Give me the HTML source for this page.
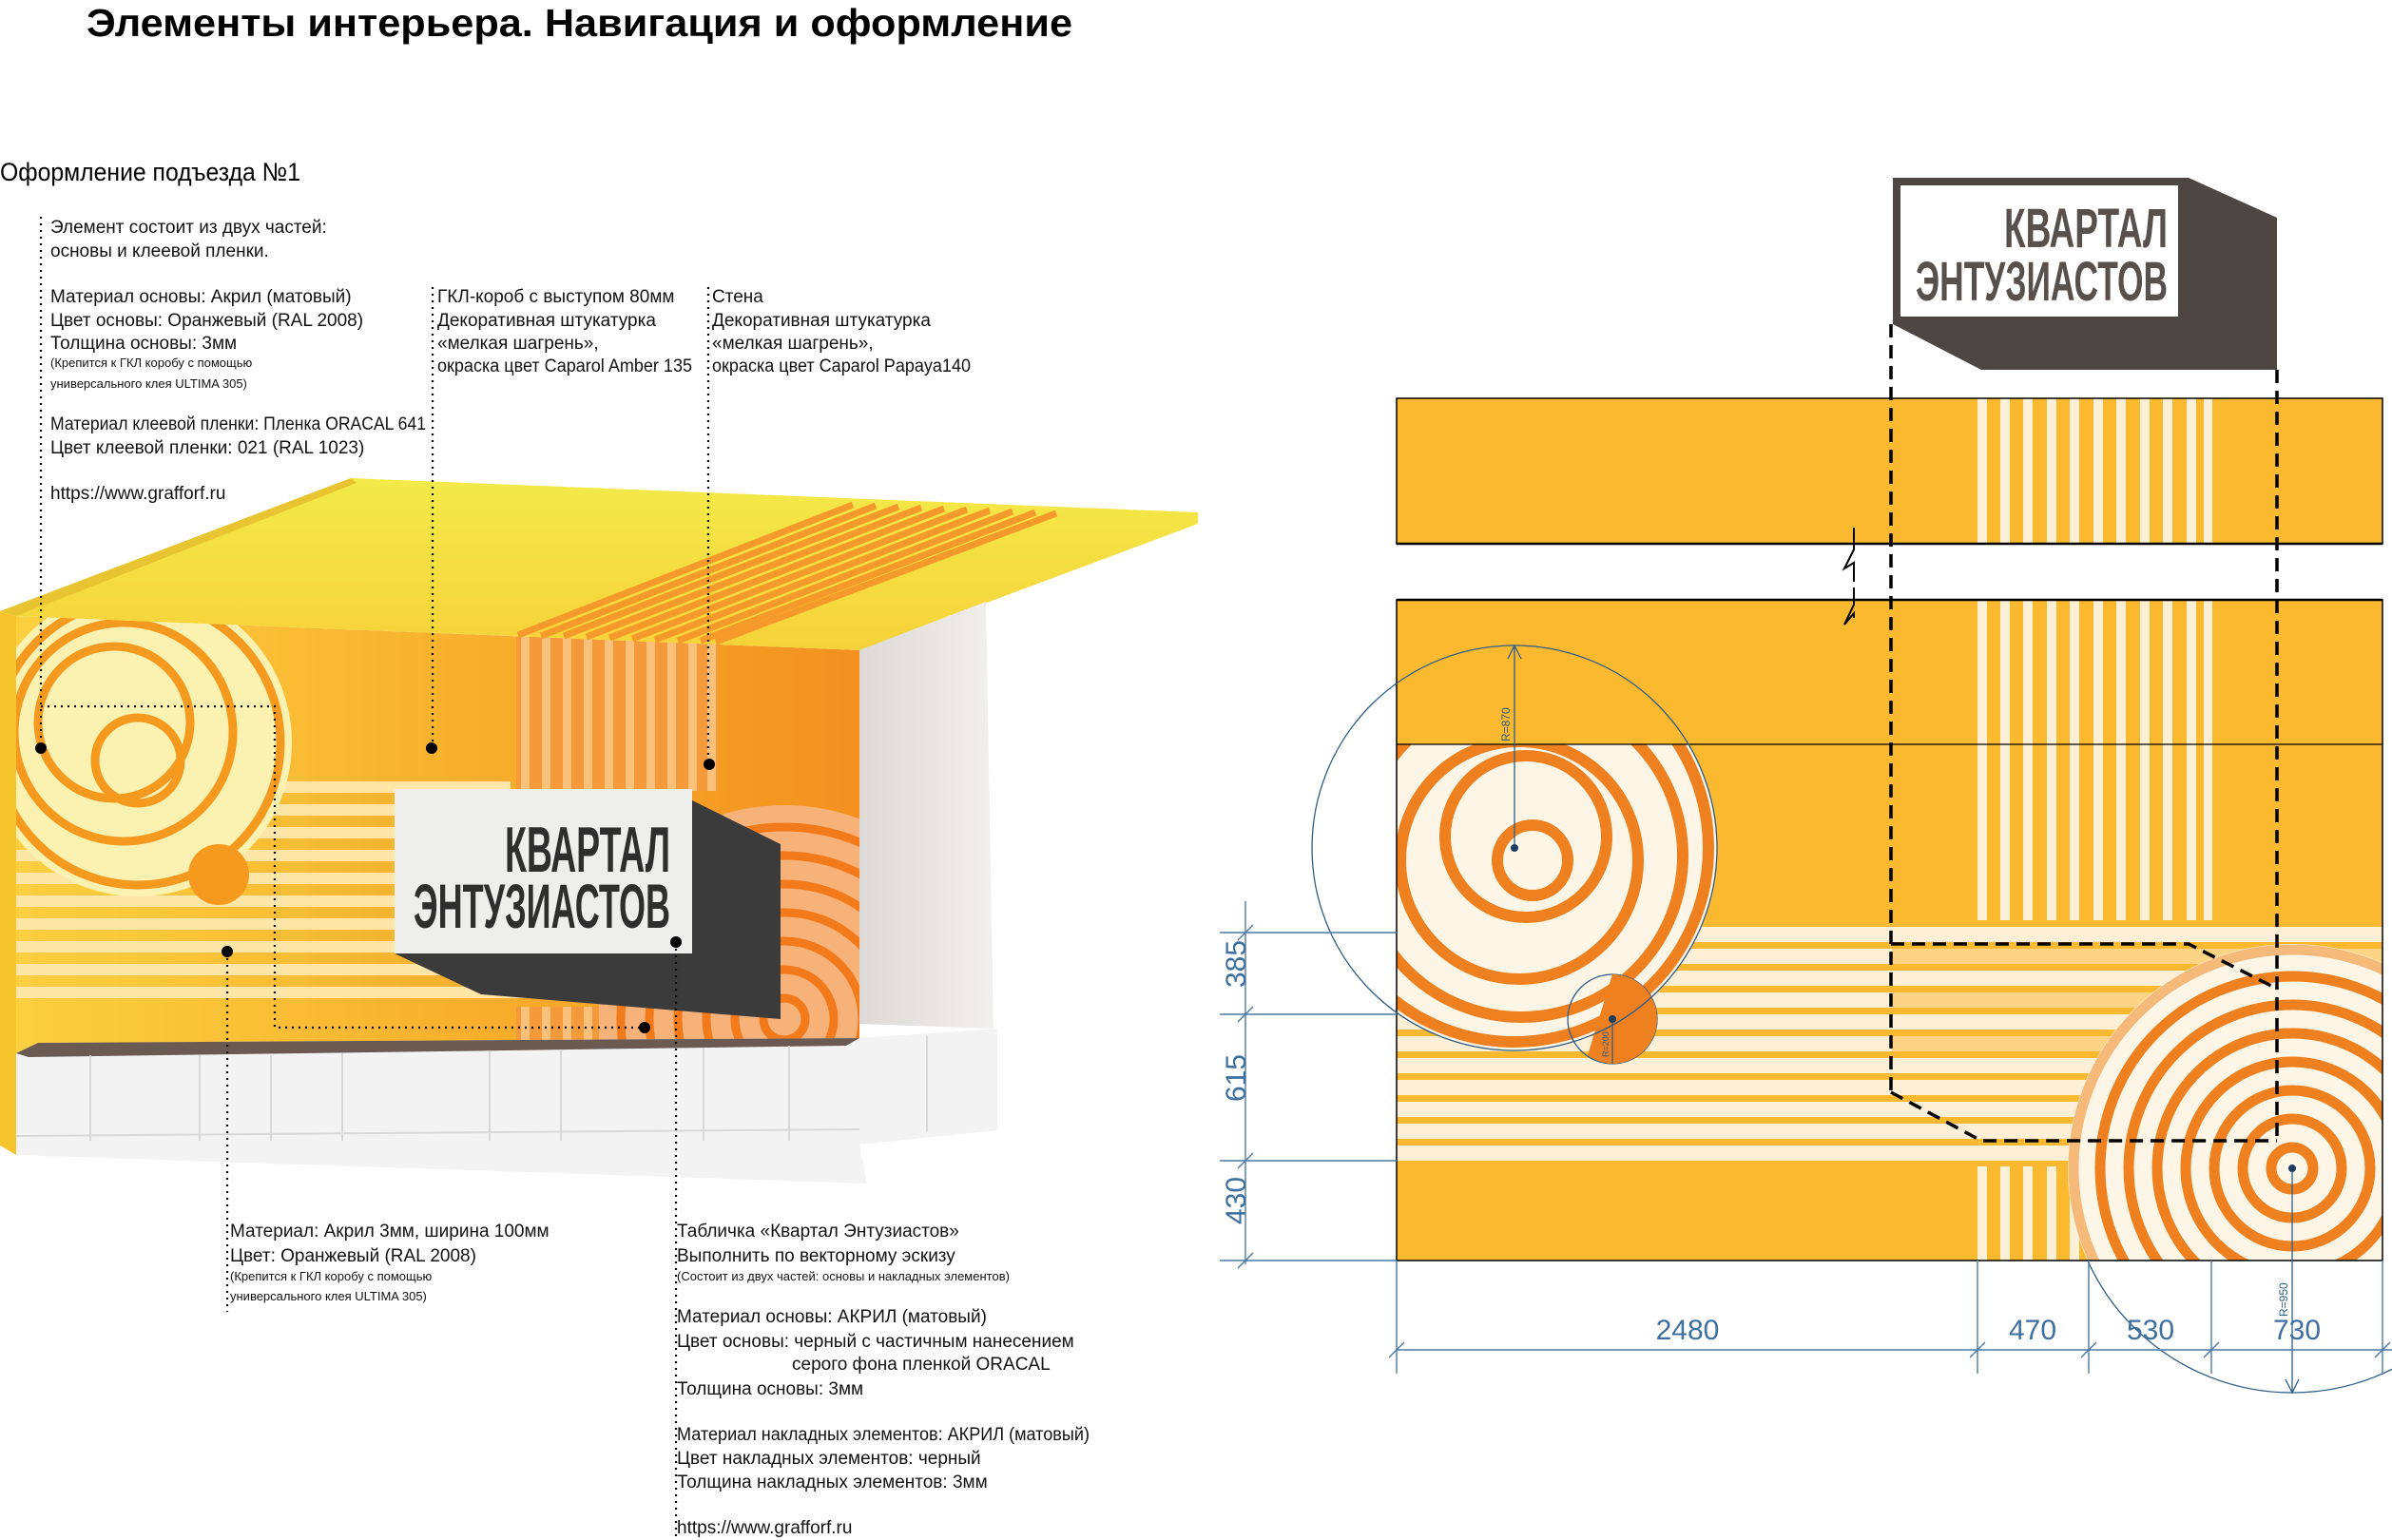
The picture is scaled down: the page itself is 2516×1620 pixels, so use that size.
<!DOCTYPE html>
<html><head><meta charset="utf-8"><style>
html,body{margin:0;padding:0;background:#fff}
svg{display:block}
text{font-family:"Liberation Sans",Arial,sans-serif}
</style></head><body>
<svg width="2516" height="1620" viewBox="0 0 2516 1620" xmlns="http://www.w3.org/2000/svg">
<defs>
<linearGradient id="wall" x1="0" y1="0" x2="1" y2="0"><stop offset="0" stop-color="#fbd040"/><stop offset="0.5" stop-color="#f8b22e"/><stop offset="1" stop-color="#f3901f"/></linearGradient>
<linearGradient id="ceil" x1="0" y1="0" x2="0" y2="1"><stop offset="0" stop-color="#f3ea4a"/><stop offset="1" stop-color="#f6d23a"/></linearGradient>
<linearGradient id="grey" x1="0" y1="0" x2="1" y2="0"><stop offset="0" stop-color="#dcd9d6"/><stop offset="1" stop-color="#f2f0ee"/></linearGradient>
<clipPath id="wallclip"><polygon points="17,648 904,684 904,1097 17,1108"/></clipPath>
<clipPath id="rsign"><polygon points="630,684 904,684 904,1097 630,1097"/></clipPath>
<clipPath id="panelL"><rect x="1469" y="783" width="1037" height="543"/></clipPath>
<clipPath id="panelR"><rect x="1469" y="631" width="1037" height="695"/></clipPath>
<clipPath id="below"><rect x="1469" y="1326" width="1047" height="200"/></clipPath>
</defs>

<text x="91" y="38" font-size="41" font-weight="bold" textLength="1037" lengthAdjust="spacingAndGlyphs">Элементы интерьера. Навигация и оформление</text>
<text x="0" y="190" font-size="27" textLength="316" lengthAdjust="spacingAndGlyphs">Оформление подъезда №1</text>

<!-- ====== 3D scene ====== -->
<polygon points="0,643 17,648 17,1215 0,1205" fill="#f6c52e"/>
<polygon points="17,648 904,684 904,1097 17,1108" fill="url(#wall)"/>
<g clip-path="url(#wallclip)">
 <g fill="#fde6a8">
  <rect x="17" y="822" width="520" height="12"/><rect x="17" y="846" width="520" height="12"/><rect x="17" y="870" width="520" height="12"/><rect x="17" y="894" width="520" height="12"/><rect x="17" y="918" width="520" height="12"/><rect x="17" y="942" width="520" height="12"/><rect x="17" y="966" width="520" height="12"/><rect x="17" y="990" width="540" height="12"/><rect x="17" y="1014" width="560" height="12"/><rect x="17" y="1038" width="560" height="12"/>
 </g>
 <circle cx="145" cy="781" r="162" fill="#fbf1b0"/>
 <g fill="none" stroke="#f59a1e" stroke-width="9">
  <circle cx="145" cy="781" r="150"/>
  <circle cx="130" cy="770" r="115"/>
  <circle cx="120" cy="760" r="80"/>
  <circle cx="145" cy="800" r="45"/>
 </g>
 <circle cx="230" cy="920" r="32" fill="#f59a1e"/>
 <g fill="#f59a3a"><rect x="543" y="666" width="212" height="166"/><rect x="543" y="1059" width="87" height="38"/></g>
 <g fill="#fbc07a">
  <rect x="548" y="666" width="9" height="166"/><rect x="570" y="666" width="9" height="166"/><rect x="592" y="666" width="9" height="166"/><rect x="614" y="666" width="9" height="166"/><rect x="636" y="666" width="9" height="166"/><rect x="658" y="666" width="9" height="166"/><rect x="680" y="666" width="9" height="166"/><rect x="702" y="666" width="9" height="166"/><rect x="724" y="666" width="9" height="166"/><rect x="744" y="666" width="9" height="166"/>
  <rect x="548" y="1059" width="9" height="38"/><rect x="570" y="1059" width="9" height="38"/><rect x="592" y="1059" width="9" height="38"/><rect x="614" y="1059" width="9" height="38"/>
 </g>
 <g clip-path="url(#rsign)">
  <circle cx="825" cy="1072" r="225" fill="#f7b27a"/>
  <g fill="none" stroke="#f27a1a" stroke-width="9">
   <circle cx="825" cy="1072" r="22"/><circle cx="825" cy="1072" r="52"/><circle cx="825" cy="1072" r="82"/><circle cx="825" cy="1072" r="112"/><circle cx="825" cy="1072" r="142"/><circle cx="825" cy="1072" r="172"/><circle cx="825" cy="1072" r="202"/>
  </g>
 </g>
</g>
<polygon points="0,643 369,503 1260,539 1260,551 904,684 17,648" fill="url(#ceil)"/>
<polygon points="0,643 369,503 375,508 17,648" fill="#e9c431"/>
<g stroke="#f59a2a" stroke-width="7">
 <line x1="897" y1="531" x2="545" y2="668"/><line x1="921" y1="532" x2="569" y2="669"/><line x1="945" y1="533" x2="593" y2="669"/><line x1="969" y1="534" x2="617" y2="670"/><line x1="993" y1="535" x2="641" y2="671"/><line x1="1017" y1="536" x2="665" y2="672"/><line x1="1041" y1="537" x2="689" y2="673"/><line x1="1065" y1="538" x2="713" y2="674"/><line x1="1089" y1="539" x2="737" y2="674"/><line x1="1111" y1="540" x2="753" y2="675"/>
</g>
<polygon points="904,684 1037,633 1045,1082 904,1077" fill="url(#grey)"/>
<polygon points="17,1108 40,1097 904,1092 1049,1082 1049,1189 904,1204 912,1245 17,1215" fill="#f3f3f3"/>
<polygon points="17,1108 40,1097 904,1092 890,1100 30,1112" fill="#6a5a52"/>
<g stroke="#d8d8d8" stroke-width="2">
 <line x1="95" y1="1110" x2="95" y2="1200"/><line x1="210" y1="1110" x2="210" y2="1200"/><line x1="285" y1="1110" x2="285" y2="1200"/><line x1="360" y1="1108" x2="360" y2="1200"/><line x1="515" y1="1105" x2="515" y2="1200"/><line x1="590" y1="1105" x2="590" y2="1200"/><line x1="740" y1="1102" x2="740" y2="1200"/><line x1="830" y1="1100" x2="830" y2="1200"/><line x1="975" y1="1090" x2="975" y2="1190"/>
 <line x1="17" y1="1195" x2="904" y2="1188"/>
</g>
<polygon points="728,842 821,888 821,1072 506,1046 415,1003 728,1003" fill="#3c3b3b"/>
<rect x="415" y="830" width="313" height="173" fill="#eeeeec"/>
<text x="705" y="917" font-size="68" font-weight="bold" fill="#2e2e2e" text-anchor="end" textLength="174" lengthAdjust="spacingAndGlyphs">КВАРТАЛ</text>
<text x="705" y="976" font-size="66" font-weight="bold" fill="#2e2e2e" text-anchor="end" textLength="270" lengthAdjust="spacingAndGlyphs">ЭНТУЗИАСТОВ</text>

<g stroke="#000" stroke-width="2.2" stroke-dasharray="2 5" fill="none">
 <line x1="43" y1="228" x2="43" y2="787"/>
 <polyline points="43,743 289,743 289,1081 678,1081"/>
 <line x1="455" y1="302" x2="455" y2="787"/>
 <line x1="745" y1="302" x2="745" y2="804"/>
 <line x1="239" y1="1001" x2="239" y2="1380"/>
 <line x1="711" y1="991" x2="711" y2="1620"/>
</g>
<g fill="#000"><circle cx="43" cy="787" r="6"/><circle cx="454" cy="787" r="6"/><circle cx="746" cy="804" r="6"/><circle cx="239" cy="1001" r="6"/><circle cx="711" cy="991" r="6"/><circle cx="678" cy="1081" r="6"/></g>

<g font-size="19" fill="#111">
 <text x="53" y="245">Элемент состоит из двух частей:</text>
 <text x="53" y="270">основы и клеевой пленки.</text>
 <text x="53" y="318">Материал основы: Акрил (матовый)</text>
 <text x="53" y="343">Цвет основы: Оранжевый (RAL 2008)</text>
 <text x="53" y="367">Толщина основы: 3мм</text>
 <text x="53" y="386" font-size="13">(Крепится к ГКЛ коробу с помощью</text>
 <text x="53" y="408" font-size="13">универсального клея ULTIMA 305)</text>
 <text x="53" y="452" textLength="395" lengthAdjust="spacingAndGlyphs">Материал клеевой пленки: Пленка ORACAL 641</text>
 <text x="53" y="477">Цвет клеевой пленки: 021 (RAL 1023)</text>
 <text x="53" y="525">https://www.grafforf.ru</text>

 <text x="460" y="318">ГКЛ-короб с выступом 80мм</text>
 <text x="460" y="343">Декоративная штукатурка</text>
 <text x="460" y="367">«мелкая шагрень»,</text>
 <text x="460" y="391" textLength="268" lengthAdjust="spacingAndGlyphs">окраска цвет Caparol Amber 135</text>

 <text x="749" y="318">Стена</text>
 <text x="749" y="343">Декоративная штукатурка</text>
 <text x="749" y="367">«мелкая шагрень»,</text>
 <text x="749" y="391" textLength="272" lengthAdjust="spacingAndGlyphs">окраска цвет Caparol Papaya140</text>

 <text x="242" y="1301">Материал: Акрил 3мм, ширина 100мм</text>
 <text x="242" y="1327">Цвет: Оранжевый (RAL 2008)</text>
 <text x="242" y="1347" font-size="13">(Крепится к ГКЛ коробу с помощью</text>
 <text x="242" y="1368" font-size="13">универсального клея ULTIMA 305)</text>

 <text x="712" y="1301">Табличка «Квартал Энтузиастов»</text>
 <text x="712" y="1327">Выполнить по векторному эскизу</text>
 <text x="712" y="1347" font-size="13">(Состоит из двух частей: основы и накладных элементов)</text>
 <text x="712" y="1391">Материал основы: АКРИЛ (матовый)</text>
 <text x="712" y="1417">Цвет основы: черный с частичным нанесением</text>
 <text x="833" y="1441">серого фона пленкой ORACAL</text>
 <text x="712" y="1467">Толщина основы: 3мм</text>
 <text x="712" y="1515" textLength="434" lengthAdjust="spacingAndGlyphs">Материал накладных элементов: АКРИЛ (матовый)</text>
 <text x="712" y="1540">Цвет накладных элементов: черный</text>
 <text x="712" y="1565">Толщина накладных элементов: 3мм</text>
 <text x="712" y="1613">https://www.grafforf.ru</text>
</g>

<!-- ====== Right drawing ====== -->
<polygon points="1991,187 2302,187 2395,229 2395,389 2084,389 1991,341" fill="#4e4642"/>
<rect x="1995" y="191" width="300" height="146" fill="#fff" stroke="#4e4642" stroke-width="8"/>
<text x="2280" y="260" font-size="58" font-weight="bold" fill="#58504c" text-anchor="end" textLength="172" lengthAdjust="spacingAndGlyphs">КВАРТАЛ</text>
<text x="2280" y="316" font-size="58" font-weight="bold" fill="#58504c" text-anchor="end" textLength="265" lengthAdjust="spacingAndGlyphs">ЭНТУЗИАСТОВ</text>

<rect x="1469" y="419" width="1037" height="153" fill="#fbb930"/>
<g fill="#fdf0d6">
 <rect x="2080" y="419" width="10" height="153"/><rect x="2104" y="419" width="10" height="153"/><rect x="2128" y="419" width="10" height="153"/><rect x="2153" y="419" width="10" height="153"/><rect x="2177" y="419" width="10" height="153"/><rect x="2202" y="419" width="10" height="153"/><rect x="2226" y="419" width="10" height="153"/><rect x="2251" y="419" width="10" height="153"/><rect x="2275" y="419" width="10" height="153"/><rect x="2300" y="419" width="10" height="153"/><rect x="2318" y="419" width="9" height="153"/>
</g>
<rect x="1469" y="419" width="1037" height="153" fill="none" stroke="#000" stroke-width="1.5"/>
<line x1="1469" y1="572" x2="2506" y2="572" stroke="#000" stroke-width="2.5"/>

<rect x="1469" y="631" width="1037" height="695" fill="#fbb930"/>
<g fill="#fdf0d6">
 <rect x="2080" y="631" width="10" height="337"/><rect x="2104" y="631" width="10" height="337"/><rect x="2128" y="631" width="10" height="337"/><rect x="2153" y="631" width="10" height="337"/><rect x="2177" y="631" width="10" height="337"/><rect x="2202" y="631" width="10" height="337"/><rect x="2226" y="631" width="10" height="337"/><rect x="2251" y="631" width="10" height="337"/><rect x="2275" y="631" width="10" height="337"/><rect x="2300" y="631" width="10" height="337"/><rect x="2318" y="631" width="9" height="337"/>
 <rect x="2080" y="1227" width="10" height="99"/><rect x="2104" y="1227" width="10" height="99"/><rect x="2128" y="1227" width="10" height="99"/><rect x="2153" y="1227" width="10" height="99"/><rect x="2177" y="1227" width="10" height="99"/>
 <rect x="1469" y="975" width="1037" height="16"/>
 <rect x="1469" y="998" width="1037" height="16"/>
 <rect x="1469" y="1021" width="1037" height="16"/>
 <rect x="1469" y="1044" width="1037" height="16"/>
 <rect x="1469" y="1067" width="1037" height="16"/>
 <rect x="1469" y="1090" width="1037" height="16"/>
 <rect x="1469" y="1113" width="1037" height="16"/>
 <rect x="1469" y="1136" width="1037" height="16"/>
 <rect x="1469" y="1159" width="1037" height="16"/>
 <rect x="1469" y="1182" width="1037" height="16"/>
 <rect x="1469" y="1205" width="1037" height="16"/>
</g>
<g fill="#fdd485"><rect x="1990" y="998" width="516" height="16"/><rect x="1990" y="1044" width="516" height="16"/><rect x="1990" y="1090" width="516" height="16"/></g>

<g clip-path="url(#panelL)">
 <circle cx="1593" cy="892" r="213" fill="#fdf5e6"/>
 <g fill="none" stroke="#ee8020" stroke-width="12">
  <circle cx="1593" cy="892" r="204"/>
  <circle cx="1600" cy="900" r="170"/>
  <circle cx="1598" cy="905" r="125"/>
  <circle cx="1605" cy="880" r="85"/>
  <circle cx="1612" cy="905" r="37"/>
 </g>
</g>
<circle cx="1696" cy="1072" r="47" fill="none" stroke="#2f5d86" stroke-width="1.3"/>
<path d="M1696,1025 A47,47 0 0 1 1696,1119 A47,47 0 0 1 1670,1110 Z" fill="#ee8020"/>

<g clip-path="url(#panelR)">
 <circle cx="2411" cy="1229" r="236" fill="#fdf5e6"/>
 <g fill="none" stroke="#ee8020" stroke-width="11">
  <circle cx="2411" cy="1229" r="22"/><circle cx="2411" cy="1229" r="52"/><circle cx="2411" cy="1229" r="82"/><circle cx="2411" cy="1229" r="112"/><circle cx="2411" cy="1229" r="142"/><circle cx="2411" cy="1229" r="172"/><circle cx="2411" cy="1229" r="202"/><circle cx="2411" cy="1229" r="230" stroke="#f5b97a"/>
 </g>
</g>
<rect x="1469" y="631" width="1037" height="695" fill="none" stroke="#000" stroke-width="1.5"/>
<line x1="1469" y1="783" x2="2506" y2="783" stroke="#000" stroke-width="1.3"/>
<line x1="1469" y1="631" x2="2506" y2="631" stroke="#000" stroke-width="2.5"/>

<rect x="1938" y="574" width="24" height="55" fill="#fff"/>
<polyline points="1950,555 1950,578 1940,598 1950,592 1950,612" fill="none" stroke="#000" stroke-width="2"/>
<polyline points="1950,618 1950,636 1940,657 1950,645 1950,650" fill="none" stroke="#000" stroke-width="2"/>

<g fill="none" stroke="#000" stroke-width="3.5" stroke-dasharray="14 8">
 <line x1="1989" y1="341" x2="1989" y2="1149"/>
 <line x1="2395" y1="389" x2="2395" y2="1200"/>
 <polyline points="1989,993 2302,993 2395,1040"/>
 <polyline points="1989,1149 2084,1200 2395,1200"/>
</g>

<g stroke="#2f5d86" stroke-width="1.3" fill="none">
 <circle cx="1593" cy="892" r="213"/>
 <line x1="1593" y1="679" x2="1593" y2="892"/>
 <polyline points="1586,693 1593,679 1600,693"/>
 <circle cx="2411" cy="1229" r="236" clip-path="url(#below)"/>
 <line x1="2411" y1="1229" x2="2411" y2="1465"/>
 <polyline points="2404,1451 2411,1465 2418,1451"/>
 <line x1="1696" y1="1072" x2="1696" y2="1119"/>
</g>
<circle cx="1593" cy="892" r="4" fill="#1d3d5e"/>
<circle cx="2411" cy="1229" r="4" fill="#1d3d5e"/>
<circle cx="1696" cy="1072" r="4" fill="#1d3d5e"/>
<text x="1588" y="780" font-size="12" fill="#2f5d86" transform="rotate(-90 1588 780)">R=870</text>
<text x="2406" y="1385" font-size="12" fill="#2f5d86" transform="rotate(-90 2406 1385)">R=950</text>
<text x="1692" y="1112" font-size="9" fill="#2f5d86" transform="rotate(-90 1692 1112)">R=200</text>

<g stroke="#4c7aa6" stroke-width="1.4" fill="none">
 <line x1="1310" y1="948" x2="1310" y2="1330"/>
 <line x1="1283" y1="981" x2="1469" y2="981"/>
 <line x1="1283" y1="1067" x2="1469" y2="1067"/>
 <line x1="1283" y1="1221" x2="1469" y2="1221"/>
 <line x1="1283" y1="1326" x2="1469" y2="1326"/>
 <line x1="1302" y1="989" x2="1318" y2="973"/><line x1="1302" y1="1075" x2="1318" y2="1059"/><line x1="1302" y1="1229" x2="1318" y2="1213"/><line x1="1302" y1="1334" x2="1318" y2="1318"/>
 <line x1="1469" y1="1326" x2="1469" y2="1445"/>
 <line x1="2080" y1="1326" x2="2080" y2="1445"/>
 <line x1="2197" y1="1326" x2="2197" y2="1445"/>
 <line x1="2326" y1="1326" x2="2326" y2="1445"/>
 <line x1="2506" y1="1326" x2="2506" y2="1445"/>
 <line x1="1469" y1="1420" x2="2516" y2="1420"/>
 <line x1="1461" y1="1428" x2="1477" y2="1412"/><line x1="2072" y1="1428" x2="2088" y2="1412"/><line x1="2189" y1="1428" x2="2205" y2="1412"/><line x1="2318" y1="1428" x2="2334" y2="1412"/><line x1="2498" y1="1428" x2="2514" y2="1412"/>
</g>
<g font-size="30" fill="#3d6fa0" text-anchor="middle">
 <text x="1320" y="1024" transform="rotate(-90 1310 1024)">385</text>
 <text x="1320" y="1144" transform="rotate(-90 1310 1144)">615</text>
 <text x="1320" y="1273" transform="rotate(-90 1310 1273)">430</text>
 <text x="1775" y="1409">2480</text>
 <text x="2138" y="1409">470</text>
 <text x="2262" y="1409">530</text>
 <text x="2416" y="1409">730</text>
</g>
</svg>
</body></html>
